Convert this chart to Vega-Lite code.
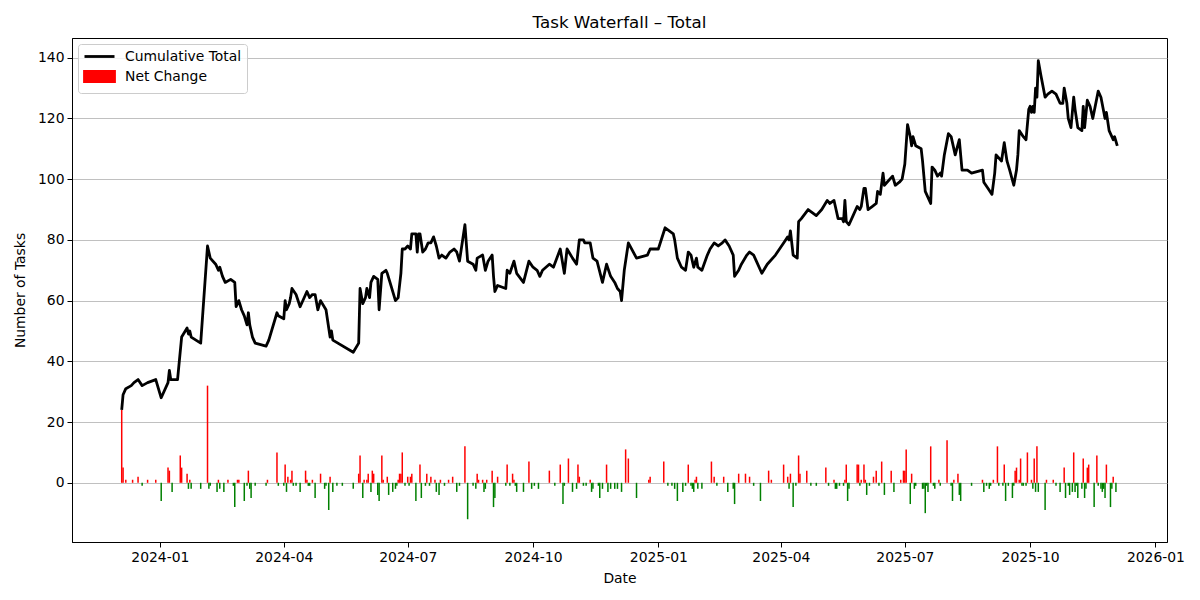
{
  "$schema": "https://vega.github.io/schema/vega-lite/v6.json",
  "width": 1095,
  "height": 504,
  "autosize": {"type": "none"},
  "padding": {"left": 72, "top": 38, "right": 33, "bottom": 58},
  "background": "white",
  "title": {"text": "Task Waterfall – Total", "fontSize": 16.7, "fontWeight": "normal", "font": "DejaVu Sans", "color": "black", "offset": 6},
  "config": {
    "font": "DejaVu Sans",
    "scale": {"continuousPadding": 0},
    "view": {"stroke": "black", "strokeWidth": 1},
    "axis": {"labelFont": "DejaVu Sans", "titleFont": "DejaVu Sans", "labelFontSize": 13.9, "titleFontSize": 13.9, "titleFontWeight": "normal", "labelColor": "black", "titleColor": "black", "tickColor": "black", "domainColor": "black", "tickSize": 5, "labelPadding": 3}
  },
  "datasets": {
    "changes": [
{"date":"2023-12-04","change":24},{"date":"2023-12-05","change":5},{"date":"2023-12-07","change":1},{"date":"2023-12-12","change":1},{"date":"2023-12-16","change":2},{"date":"2023-12-19","change":-1},{"date":"2023-12-23","change":1},{"date":"2023-12-29","change":1},
{"date":"2024-01-02","change":-6},{"date":"2024-01-07","change":5},{"date":"2024-01-08","change":4},{"date":"2024-01-10","change":-3},{"date":"2024-01-16","change":9},{"date":"2024-01-17","change":5},{"date":"2024-01-21","change":3},{"date":"2024-01-22","change":-2},{"date":"2024-01-23","change":1},{"date":"2024-01-24","change":-2},{"date":"2024-01-31","change":-2},
{"date":"2024-02-05","change":32},{"date":"2024-02-06","change":-2},{"date":"2024-02-07","change":-1},{"date":"2024-02-12","change":-3},{"date":"2024-02-13","change":1},{"date":"2024-02-14","change":-2},{"date":"2024-02-17","change":-3},{"date":"2024-02-20","change":1},{"date":"2024-02-24","change":-1},{"date":"2024-02-25","change":-8},{"date":"2024-02-27","change":1},{"date":"2024-02-28","change":1},
{"date":"2024-03-03","change":-6},{"date":"2024-03-05","change":-1},{"date":"2024-03-06","change":4},{"date":"2024-03-07","change":-2},{"date":"2024-03-08","change":-5},{"date":"2024-03-11","change":-1},{"date":"2024-03-19","change":-1},{"date":"2024-03-20","change":1},{"date":"2024-03-27","change":10},{"date":"2024-03-28","change":-1},
{"date":"2024-04-01","change":-1},{"date":"2024-04-02","change":6},{"date":"2024-04-03","change":-3},{"date":"2024-04-04","change":2},{"date":"2024-04-06","change":1},{"date":"2024-04-07","change":4},{"date":"2024-04-08","change":-1},{"date":"2024-04-10","change":-1},{"date":"2024-04-13","change":-3},{"date":"2024-04-17","change":4},{"date":"2024-04-18","change":1},{"date":"2024-04-19","change":-1},{"date":"2024-04-20","change":-1},{"date":"2024-04-22","change":1},{"date":"2024-04-24","change":-5},{"date":"2024-04-28","change":3},
{"date":"2024-05-01","change":-2},{"date":"2024-05-02","change":-1},{"date":"2024-05-04","change":-9},{"date":"2024-05-05","change":2},{"date":"2024-05-07","change":-3},{"date":"2024-05-10","change":-1},{"date":"2024-05-14","change":-1},{"date":"2024-05-22","change":-2},{"date":"2024-05-26","change":3},{"date":"2024-05-27","change":9},{"date":"2024-05-29","change":-5},{"date":"2024-05-30","change":1},
{"date":"2024-06-01","change":1},{"date":"2024-06-02","change":3},{"date":"2024-06-04","change":-3},{"date":"2024-06-05","change":4},{"date":"2024-06-06","change":3},{"date":"2024-06-09","change":-4},{"date":"2024-06-10","change":-6},{"date":"2024-06-12","change":9},{"date":"2024-06-13","change":1},{"date":"2024-06-16","change":2},{"date":"2024-06-17","change":-4},{"date":"2024-06-20","change":-3},{"date":"2024-06-22","change":-2},{"date":"2024-06-23","change":-1},{"date":"2024-06-24","change":1},{"date":"2024-06-25","change":3},{"date":"2024-06-26","change":3},{"date":"2024-06-27","change":10},{"date":"2024-06-29","change":-1},
{"date":"2024-07-01","change":2},{"date":"2024-07-02","change":-1},{"date":"2024-07-03","change":2},{"date":"2024-07-04","change":3},{"date":"2024-07-07","change":-6},{"date":"2024-07-10","change":6},{"date":"2024-07-11","change":-5},{"date":"2024-07-14","change":-1},{"date":"2024-07-15","change":3},{"date":"2024-07-17","change":-1},{"date":"2024-07-18","change":2},{"date":"2024-07-21","change":1},{"date":"2024-07-22","change":-3},{"date":"2024-07-24","change":-4},{"date":"2024-07-25","change":1},{"date":"2024-07-28","change":-1},{"date":"2024-07-31","change":1},
{"date":"2024-08-03","change":2},{"date":"2024-08-06","change":-3},{"date":"2024-08-08","change":-1},{"date":"2024-08-12","change":12},{"date":"2024-08-14","change":-12},{"date":"2024-08-18","change":-1},{"date":"2024-08-20","change":-2},{"date":"2024-08-21","change":3},{"date":"2024-08-22","change":1},{"date":"2024-08-25","change":1},{"date":"2024-08-26","change":-3},{"date":"2024-08-27","change":-2},{"date":"2024-08-28","change":1},
{"date":"2024-09-01","change":4},{"date":"2024-09-02","change":-8},{"date":"2024-09-03","change":-5},{"date":"2024-09-05","change":2},{"date":"2024-09-11","change":-1},{"date":"2024-09-12","change":6},{"date":"2024-09-14","change":-1},{"date":"2024-09-16","change":3},{"date":"2024-09-17","change":1},{"date":"2024-09-18","change":-1},{"date":"2024-09-19","change":-3},{"date":"2024-09-24","change":-3},{"date":"2024-09-28","change":7},{"date":"2024-09-30","change":-2},
{"date":"2024-10-02","change":-1},{"date":"2024-10-05","change":-2},{"date":"2024-10-13","change":4},{"date":"2024-10-17","change":-1},{"date":"2024-10-21","change":6},{"date":"2024-10-23","change":-7},{"date":"2024-10-24","change":-1},{"date":"2024-10-27","change":8},{"date":"2024-10-30","change":-3},
{"date":"2024-11-02","change":-2},{"date":"2024-11-03","change":6},{"date":"2024-11-04","change":2},{"date":"2024-11-07","change":-1},{"date":"2024-11-09","change":-1},{"date":"2024-11-12","change":1},{"date":"2024-11-13","change":-3},{"date":"2024-11-14","change":-2},{"date":"2024-11-18","change":-1},{"date":"2024-11-19","change":-5},{"date":"2024-11-21","change":-2},{"date":"2024-11-24","change":6},{"date":"2024-11-25","change":-3},{"date":"2024-11-27","change":-2},{"date":"2024-11-30","change":-2},
{"date":"2024-12-02","change":-2},{"date":"2024-12-05","change":-3},{"date":"2024-12-08","change":11},{"date":"2024-12-10","change":8},{"date":"2024-12-16","change":-5},{"date":"2024-12-25","change":1},{"date":"2024-12-26","change":2},
{"date":"2025-01-05","change":7},{"date":"2025-01-08","change":-1},{"date":"2025-01-11","change":-1},{"date":"2025-01-13","change":-2},{"date":"2025-01-15","change":-6},{"date":"2025-01-19","change":-3},{"date":"2025-01-21","change":-1},{"date":"2025-01-23","change":6},{"date":"2025-01-25","change":-1},{"date":"2025-01-26","change":-2},{"date":"2025-01-27","change":-3},{"date":"2025-01-28","change":1},{"date":"2025-01-29","change":2},{"date":"2025-01-30","change":-2},
{"date":"2025-02-02","change":-2},{"date":"2025-02-09","change":7},{"date":"2025-02-11","change":2},{"date":"2025-02-13","change":-1},{"date":"2025-02-18","change":2},{"date":"2025-02-21","change":-3},{"date":"2025-02-25","change":-2},{"date":"2025-02-26","change":-7},
{"date":"2025-03-01","change":3},{"date":"2025-03-06","change":3},{"date":"2025-03-09","change":2},{"date":"2025-03-12","change":-1},{"date":"2025-03-17","change":-6},{"date":"2025-03-23","change":4},{"date":"2025-03-25","change":1},
{"date":"2025-04-03","change":6},{"date":"2025-04-06","change":2},{"date":"2025-04-07","change":-2},{"date":"2025-04-08","change":3},{"date":"2025-04-10","change":-8},{"date":"2025-04-12","change":-1},{"date":"2025-04-14","change":9},{"date":"2025-04-15","change":3},{"date":"2025-04-20","change":4},{"date":"2025-04-23","change":-1},{"date":"2025-04-27","change":-1},
{"date":"2025-05-04","change":5},{"date":"2025-05-06","change":-1},{"date":"2025-05-10","change":1},{"date":"2025-05-11","change":-2},{"date":"2025-05-12","change":-2},{"date":"2025-05-14","change":-1},{"date":"2025-05-17","change":-1},{"date":"2025-05-18","change":1},{"date":"2025-05-19","change":6},{"date":"2025-05-20","change":-6},{"date":"2025-05-21","change":-2},{"date":"2025-05-27","change":6},{"date":"2025-05-28","change":6},{"date":"2025-05-29","change":-1},{"date":"2025-05-30","change":1},
{"date":"2025-06-01","change":6},{"date":"2025-06-02","change":1},{"date":"2025-06-03","change":-4},{"date":"2025-06-05","change":-1},{"date":"2025-06-08","change":2},{"date":"2025-06-10","change":4},{"date":"2025-06-12","change":-1},{"date":"2025-06-14","change":7},{"date":"2025-06-16","change":-4},{"date":"2025-06-21","change":4},{"date":"2025-06-23","change":-3},{"date":"2025-06-28","change":1},{"date":"2025-06-30","change":4},
{"date":"2025-07-01","change":4},{"date":"2025-07-02","change":11},{"date":"2025-07-05","change":-7},{"date":"2025-07-06","change":3},{"date":"2025-07-08","change":-2},{"date":"2025-07-09","change":-1},{"date":"2025-07-14","change":-2},{"date":"2025-07-15","change":-2},{"date":"2025-07-16","change":-10},{"date":"2025-07-17","change":-1},{"date":"2025-07-18","change":-3},{"date":"2025-07-20","change":12},{"date":"2025-07-22","change":-1},{"date":"2025-07-23","change":-2},{"date":"2025-07-26","change":1},{"date":"2025-07-27","change":-1},
{"date":"2025-08-01","change":14},{"date":"2025-08-04","change":-1},{"date":"2025-08-05","change":-6},{"date":"2025-08-06","change":1},{"date":"2025-08-09","change":3},{"date":"2025-08-10","change":-4},{"date":"2025-08-11","change":-6},{"date":"2025-08-19","change":-1},{"date":"2025-08-27","change":1},{"date":"2025-08-28","change":-3},{"date":"2025-08-30","change":-1},
{"date":"2025-09-01","change":-2},{"date":"2025-09-02","change":-1},{"date":"2025-09-04","change":1},{"date":"2025-09-07","change":12},{"date":"2025-09-08","change":-1},{"date":"2025-09-11","change":-1},{"date":"2025-09-12","change":6},{"date":"2025-09-13","change":-6},{"date":"2025-09-15","change":-1},{"date":"2025-09-18","change":-5},{"date":"2025-09-19","change":-1},{"date":"2025-09-20","change":4},{"date":"2025-09-21","change":5},{"date":"2025-09-23","change":1},{"date":"2025-09-24","change":8},{"date":"2025-09-25","change":-1},{"date":"2025-09-26","change":-1},{"date":"2025-09-28","change":-1},{"date":"2025-09-29","change":10},
{"date":"2025-10-02","change":1},{"date":"2025-10-03","change":-2},{"date":"2025-10-04","change":8},{"date":"2025-10-05","change":-3},{"date":"2025-10-06","change":12},{"date":"2025-10-07","change":-3},{"date":"2025-10-12","change":-9},{"date":"2025-10-13","change":1},{"date":"2025-10-18","change":1},{"date":"2025-10-20","change":-1},{"date":"2025-10-23","change":-3},{"date":"2025-10-26","change":5},{"date":"2025-10-27","change":-5},{"date":"2025-10-29","change":-1},{"date":"2025-10-30","change":-4},
{"date":"2025-11-01","change":-3},{"date":"2025-11-02","change":10},{"date":"2025-11-03","change":-3},{"date":"2025-11-04","change":-1},{"date":"2025-11-05","change":-5},{"date":"2025-11-08","change":-2},{"date":"2025-11-09","change":8},{"date":"2025-11-10","change":-5},{"date":"2025-11-11","change":-2},{"date":"2025-11-12","change":5},{"date":"2025-11-13","change":6},{"date":"2025-11-17","change":-8},{"date":"2025-11-19","change":9},{"date":"2025-11-20","change":-1},{"date":"2025-11-22","change":-2},{"date":"2025-11-23","change":-3},{"date":"2025-11-24","change":-2},{"date":"2025-11-25","change":-5},{"date":"2025-11-26","change":6},{"date":"2025-11-29","change":-8},{"date":"2025-11-30","change":-2},
{"date":"2025-12-01","change":2},{"date":"2025-12-03","change":-3}
    ],
    "total": [
{"date":"2023-12-04","total":24},{"date":"2023-12-05","total":29},{"date":"2023-12-07","total":31},{"date":"2023-12-11","total":32},{"date":"2023-12-13","total":33},{"date":"2023-12-16","total":34},{"date":"2023-12-19","total":32},{"date":"2023-12-23","total":33},{"date":"2023-12-29","total":34},
{"date":"2024-01-02","total":28},{"date":"2024-01-07","total":33},{"date":"2024-01-08","total":37},{"date":"2024-01-09","total":34},{"date":"2024-01-14","total":34},{"date":"2024-01-17","total":48},{"date":"2024-01-21","total":51},{"date":"2024-01-22","total":49},{"date":"2024-01-23","total":50},{"date":"2024-01-24","total":48},{"date":"2024-01-31","total":46},
{"date":"2024-02-05","total":78},{"date":"2024-02-07","total":74},{"date":"2024-02-11","total":72},{"date":"2024-02-13","total":70},{"date":"2024-02-14","total":71},{"date":"2024-02-16","total":68},{"date":"2024-02-18","total":66},{"date":"2024-02-22","total":67},{"date":"2024-02-25","total":66},{"date":"2024-02-26","total":58},{"date":"2024-02-28","total":60},
{"date":"2024-03-01","total":57},{"date":"2024-03-03","total":55},{"date":"2024-03-05","total":52},{"date":"2024-03-06","total":56},{"date":"2024-03-07","total":52},{"date":"2024-03-09","total":48},{"date":"2024-03-11","total":46},{"date":"2024-03-19","total":45},{"date":"2024-03-21","total":47},{"date":"2024-03-27","total":56},{"date":"2024-03-28","total":55},
{"date":"2024-04-01","total":54},{"date":"2024-04-02","total":60},{"date":"2024-04-03","total":57},{"date":"2024-04-05","total":59},{"date":"2024-04-06","total":61},{"date":"2024-04-07","total":64},{"date":"2024-04-10","total":62},{"date":"2024-04-13","total":58},{"date":"2024-04-18","total":63},{"date":"2024-04-20","total":61},{"date":"2024-04-22","total":62},{"date":"2024-04-24","total":62},{"date":"2024-04-26","total":57},{"date":"2024-04-28","total":60},
{"date":"2024-05-02","total":57},{"date":"2024-05-04","total":51},{"date":"2024-05-05","total":48},{"date":"2024-05-06","total":50},{"date":"2024-05-07","total":47},{"date":"2024-05-22","total":43},{"date":"2024-05-26","total":46},{"date":"2024-05-27","total":64},{"date":"2024-05-29","total":59},{"date":"2024-05-31","total":61},
{"date":"2024-06-01","total":64},{"date":"2024-06-03","total":61},{"date":"2024-06-04","total":66},{"date":"2024-06-06","total":68},{"date":"2024-06-09","total":67},{"date":"2024-06-10","total":57},{"date":"2024-06-12","total":69},{"date":"2024-06-15","total":70},{"date":"2024-06-16","total":69},{"date":"2024-06-18","total":66},{"date":"2024-06-22","total":60},{"date":"2024-06-24","total":61},{"date":"2024-06-26","total":69},{"date":"2024-06-27","total":77},{"date":"2024-06-29","total":77},
{"date":"2024-07-01","total":78},{"date":"2024-07-03","total":77},{"date":"2024-07-04","total":82},{"date":"2024-07-07","total":82},{"date":"2024-07-08","total":76},{"date":"2024-07-09","total":82},{"date":"2024-07-10","total":82},{"date":"2024-07-12","total":76},{"date":"2024-07-14","total":77},{"date":"2024-07-16","total":79},{"date":"2024-07-18","total":79},{"date":"2024-07-20","total":81},{"date":"2024-07-22","total":78},{"date":"2024-07-24","total":74},{"date":"2024-07-26","total":75},{"date":"2024-07-29","total":74},
{"date":"2024-08-01","total":76},{"date":"2024-08-04","total":77},{"date":"2024-08-06","total":76},{"date":"2024-08-08","total":73},{"date":"2024-08-12","total":85},{"date":"2024-08-14","total":73},{"date":"2024-08-18","total":72},{"date":"2024-08-20","total":70},{"date":"2024-08-21","total":74},{"date":"2024-08-25","total":75},{"date":"2024-08-27","total":70},{"date":"2024-08-29","total":73},
{"date":"2024-09-01","total":75},{"date":"2024-09-02","total":68},{"date":"2024-09-03","total":63},{"date":"2024-09-05","total":65},{"date":"2024-09-11","total":64},{"date":"2024-09-12","total":70},{"date":"2024-09-14","total":69},{"date":"2024-09-17","total":73},{"date":"2024-09-19","total":69},{"date":"2024-09-24","total":66},{"date":"2024-09-28","total":73},
{"date":"2024-10-01","total":71},{"date":"2024-10-04","total":70},{"date":"2024-10-06","total":68},{"date":"2024-10-08","total":70},{"date":"2024-10-13","total":72},{"date":"2024-10-16","total":71},{"date":"2024-10-21","total":77},{"date":"2024-10-24","total":69},{"date":"2024-10-26","total":77},{"date":"2024-10-30","total":74},
{"date":"2024-11-02","total":72},{"date":"2024-11-04","total":80},{"date":"2024-11-07","total":80},{"date":"2024-11-08","total":79},{"date":"2024-11-12","total":79},{"date":"2024-11-14","total":74},{"date":"2024-11-17","total":73},{"date":"2024-11-21","total":66},{"date":"2024-11-24","total":72},{"date":"2024-11-27","total":68},{"date":"2024-11-30","total":66},
{"date":"2024-12-02","total":64},{"date":"2024-12-04","total":63},{"date":"2024-12-05","total":60},{"date":"2024-12-07","total":70},{"date":"2024-12-10","total":79},{"date":"2024-12-16","total":74},{"date":"2024-12-24","total":75},{"date":"2024-12-26","total":77},
{"date":"2025-01-01","total":77},{"date":"2025-01-06","total":84},{"date":"2025-01-12","total":82},{"date":"2025-01-13","total":80},{"date":"2025-01-15","total":74},{"date":"2025-01-18","total":71},{"date":"2025-01-21","total":70},{"date":"2025-01-23","total":76},{"date":"2025-01-25","total":75},{"date":"2025-01-27","total":71},{"date":"2025-01-29","total":74},{"date":"2025-01-30","total":71},
{"date":"2025-02-02","total":70},{"date":"2025-02-06","total":75},{"date":"2025-02-08","total":77},{"date":"2025-02-11","total":79},{"date":"2025-02-14","total":78},{"date":"2025-02-17","total":79},{"date":"2025-02-19","total":80},{"date":"2025-02-22","total":78},{"date":"2025-02-25","total":75},{"date":"2025-02-26","total":68},
{"date":"2025-03-01","total":70},{"date":"2025-03-03","total":72},{"date":"2025-03-07","total":75},{"date":"2025-03-09","total":76},{"date":"2025-03-12","total":75},{"date":"2025-03-14","total":73},{"date":"2025-03-18","total":69},{"date":"2025-03-22","total":72},{"date":"2025-03-28","total":75},
{"date":"2025-04-03","total":79},{"date":"2025-04-06","total":81},{"date":"2025-04-07","total":80},{"date":"2025-04-08","total":83},{"date":"2025-04-10","total":75},{"date":"2025-04-13","total":74},{"date":"2025-04-14","total":86},{"date":"2025-04-16","total":87},{"date":"2025-04-21","total":90},{"date":"2025-04-24","total":89},{"date":"2025-04-27","total":88},
{"date":"2025-05-01","total":90},{"date":"2025-05-05","total":93},{"date":"2025-05-07","total":92},{"date":"2025-05-10","total":93},{"date":"2025-05-11","total":91},{"date":"2025-05-13","total":87},{"date":"2025-05-16","total":87},{"date":"2025-05-17","total":86},{"date":"2025-05-18","total":93},{"date":"2025-05-19","total":86},{"date":"2025-05-21","total":85},{"date":"2025-05-24","total":88},{"date":"2025-05-27","total":91},{"date":"2025-05-29","total":90},{"date":"2025-05-30","total":91},
{"date":"2025-06-01","total":97},{"date":"2025-06-02","total":97},{"date":"2025-06-04","total":90},{"date":"2025-06-07","total":91},{"date":"2025-06-10","total":92},{"date":"2025-06-11","total":96},{"date":"2025-06-13","total":95},{"date":"2025-06-15","total":102},{"date":"2025-06-16","total":98},{"date":"2025-06-22","total":101},{"date":"2025-06-24","total":98},{"date":"2025-06-27","total":99},{"date":"2025-06-29","total":100},
{"date":"2025-07-01","total":105},{"date":"2025-07-03","total":118},{"date":"2025-07-05","total":114},{"date":"2025-07-06","total":111},{"date":"2025-07-07","total":114},{"date":"2025-07-09","total":111},{"date":"2025-07-13","total":110},{"date":"2025-07-14","total":106},{"date":"2025-07-16","total":96},{"date":"2025-07-19","total":93},{"date":"2025-07-20","total":92},{"date":"2025-07-21","total":104},{"date":"2025-07-23","total":103},{"date":"2025-07-25","total":101},{"date":"2025-07-27","total":102},{"date":"2025-07-28","total":101},{"date":"2025-07-30","total":108},
{"date":"2025-08-02","total":115},{"date":"2025-08-04","total":114},{"date":"2025-08-07","total":108},{"date":"2025-08-10","total":113},{"date":"2025-08-12","total":103},{"date":"2025-08-16","total":103},{"date":"2025-08-19","total":102},{"date":"2025-08-27","total":103},{"date":"2025-08-28","total":99},{"date":"2025-08-31","total":97},
{"date":"2025-09-03","total":95},{"date":"2025-09-05","total":102},{"date":"2025-09-06","total":108},{"date":"2025-09-10","total":106},{"date":"2025-09-12","total":112},{"date":"2025-09-14","total":106},{"date":"2025-09-16","total":103},{"date":"2025-09-19","total":98},{"date":"2025-09-21","total":103},{"date":"2025-09-22","total":108},{"date":"2025-09-23","total":116},{"date":"2025-09-26","total":114},{"date":"2025-09-28","total":113},{"date":"2025-09-30","total":123},
{"date":"2025-10-01","total":124},{"date":"2025-10-02","total":122},{"date":"2025-10-03","total":124},{"date":"2025-10-04","total":122},{"date":"2025-10-05","total":130},{"date":"2025-10-06","total":127},{"date":"2025-10-07","total":139},{"date":"2025-10-09","total":134},{"date":"2025-10-12","total":127},{"date":"2025-10-14","total":128},{"date":"2025-10-17","total":129},{"date":"2025-10-20","total":128},{"date":"2025-10-23","total":125},{"date":"2025-10-25","total":125},{"date":"2025-10-26","total":130},{"date":"2025-10-28","total":125},{"date":"2025-10-29","total":120},{"date":"2025-10-31","total":117},
{"date":"2025-11-02","total":127},{"date":"2025-11-03","total":123},{"date":"2025-11-05","total":117},{"date":"2025-11-08","total":116},{"date":"2025-11-09","total":124},{"date":"2025-11-10","total":117},{"date":"2025-11-12","total":126},{"date":"2025-11-14","total":124},{"date":"2025-11-16","total":120},{"date":"2025-11-20","total":129},{"date":"2025-11-22","total":127},{"date":"2025-11-25","total":120},{"date":"2025-11-26","total":122},{"date":"2025-11-28","total":116},{"date":"2025-11-30","total":114},
{"date":"2025-12-01","total":113},{"date":"2025-12-02","total":114},{"date":"2025-12-04","total":111}
    ]
  },
  "layer": [
    {
      "data": {"name": "changes"},
      "mark": {"type": "bar", "size": 1.5},
      "encoding": {
        "x": {"field": "date", "type": "temporal"},
        "y": {"field": "change", "type": "quantitative"},
        "color": {"condition": {"test": "datum.change < 0", "value": "green"}, "datum": "Net Change"}
      }
    },
    {
      "data": {"name": "total"},
      "mark": {"type": "line", "strokeWidth": 2.8, "strokeJoin": "round"},
      "encoding": {
        "x": {
          "field": "date", "type": "temporal",
          "scale": {"type": "utc", "padding": 0, "domain": [{"year": 2023, "month": 10, "date": 28, "hours": 12, "utc": true}, {"year": 2026, "month": 1, "date": 9, "hours": 12, "utc": true}]},
          "axis": {
            "title": "Date", "format": "%Y-%m", "grid": false, "labelFlush": false, "labelOverlap": false, "titlePadding": 8,
            "values": [
              {"year": 2024, "month": 1, "date": 1, "utc": true}, {"year": 2024, "month": 4, "date": 1, "utc": true}, {"year": 2024, "month": 7, "date": 1, "utc": true}, {"year": 2024, "month": 10, "date": 1, "utc": true},
              {"year": 2025, "month": 1, "date": 1, "utc": true}, {"year": 2025, "month": 4, "date": 1, "utc": true}, {"year": 2025, "month": 7, "date": 1, "utc": true}, {"year": 2025, "month": 10, "date": 1, "utc": true},
              {"year": 2026, "month": 1, "date": 1, "utc": true}
            ]
          }
        },
        "y": {
          "field": "total", "type": "quantitative",
          "scale": {"domain": [-19.5, 146.5], "nice": false, "zero": false},
          "axis": {"title": "Number of Tasks", "values": [0, 20, 40, 60, 80, 100, 120, 140], "grid": true, "gridColor": "#b0b0b0", "gridWidth": 0.8, "titlePadding": 10}
        },
        "color": {
          "datum": "Cumulative Total",
          "scale": {"domain": ["Cumulative Total", "Net Change"], "range": ["black", "red"]},
          "legend": {
            "title": null, "orient": "none", "legendX": 6, "legendY": 6,
            "fillColor": "rgba(255,255,255,0.8)", "strokeColor": "#cccccc", "cornerRadius": 3, "padding": 5,
            "labelFont": "DejaVu Sans", "labelFontSize": 13.9, "labelColor": "black",
            "symbolSize": 144, "labelOffset": 27, "rowPadding": 1,
            "encode": {
              "symbols": {
                "update": {
                  "shape": {"signal": "datum.value === 'Net Change' ? 'M-1,-0.83H4V0.83H-1Z' : 'M-1,0H4'"},
                  "fill": {"signal": "datum.value === 'Net Change' ? 'red' : 'transparent'"},
                  "stroke": {"signal": "datum.value === 'Net Change' ? 'transparent' : 'black'"},
                  "strokeWidth": {"value": 2.8},
                  "opacity": {"value": 1}
                }
              }
            }
          }
        }
      }
    }
  ]
}
